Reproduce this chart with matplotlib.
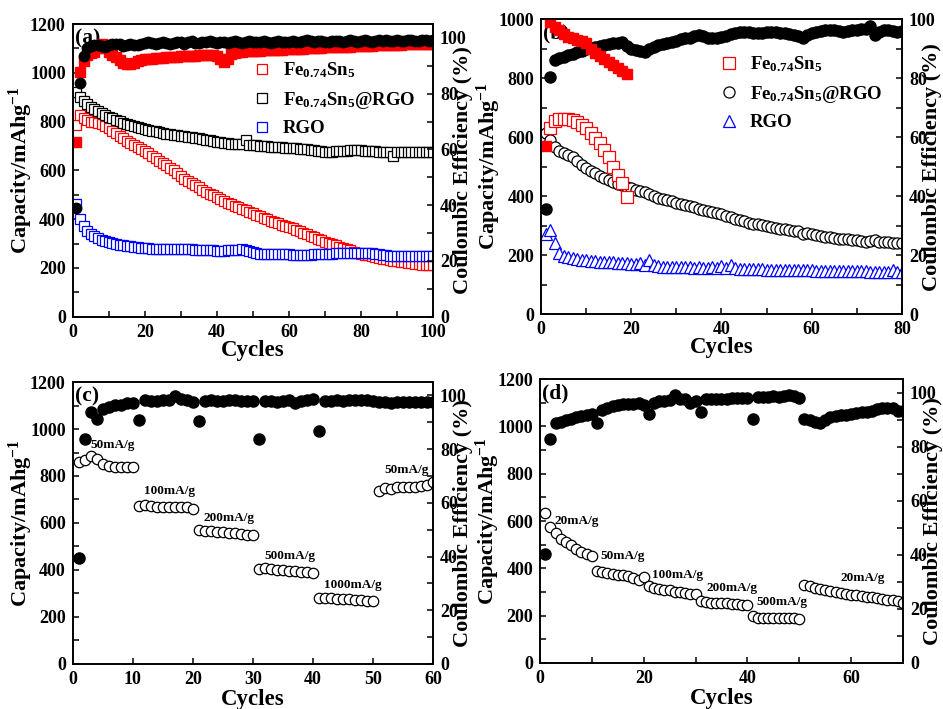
import numpy as np
import matplotlib
matplotlib.use("Agg")
import matplotlib.pyplot as plt
from matplotlib.ticker import MultipleLocator

plt.rcParams['font.family'] = ['Liberation Serif', 'DejaVu Serif']
plt.rcParams['font.weight'] = 'bold'
plt.rcParams['axes.labelweight'] = 'bold'
plt.rcParams['mathtext.fontset'] = 'custom'
plt.rcParams['mathtext.rm'] = 'Liberation Serif:bold'
plt.rcParams['mathtext.it'] = 'Liberation Serif:bold'
plt.rcParams['mathtext.bf'] = 'Liberation Serif:bold'

# ---------------- panel (a): 100 cycles ----------------
a_cycles = np.arange(1, 101)
a_cap_fe = [785, 828, 815, 805, 800, 800, 796, 790, 782, 772,
            762, 752, 742, 732, 722, 713, 704, 696, 688, 680,
            670, 660, 650, 640, 630, 620, 610, 600, 588, 576,
            566, 557, 548, 539, 530, 521, 513, 505, 497, 489,
            482, 475, 468, 461, 455, 448, 442, 436, 430, 424,
            418, 412, 406, 400, 394, 388, 383, 378, 373, 368,
            362, 356, 350, 344, 338, 332, 326, 320, 314, 308,
            302, 297, 292, 287, 282, 277, 272, 267, 263, 259,
            255, 251, 247, 244, 241, 238, 235, 232, 230, 228,
            226, 224, 222, 220, 218, 216, 214, 212, 211, 210]
a_cap_comp = [920, 902, 886, 872, 860, 850, 842, 834, 827, 820,
              813, 807, 801, 796, 791, 786, 782, 778, 774, 770,
              766, 763, 760, 757, 754, 751, 748, 746, 744, 742,
              740, 738, 736, 733, 731, 728, 726, 723, 720, 718,
              716, 714, 712, 710, 709, 708, 707, 724, 705, 703,
              702, 700, 699, 698, 697, 696, 695, 694, 693, 692,
              691, 690, 688, 687, 686, 684, 682, 680, 678, 676,
              676, 677, 678, 679, 680, 681, 682, 683, 683, 682,
              681, 680, 679, 678, 677, 676, 675, 674, 658, 674,
              675, 675, 676, 676, 675, 675, 676, 676, 675, 675]
a_cap_rgo = [462, 400, 372, 352, 340, 330, 322, 316, 311, 306,
             302, 299, 296, 293, 291, 289, 287, 285, 283, 281,
             280, 279, 278, 278, 277, 277, 276, 276, 276, 278,
             278, 277, 276, 275, 274, 273, 272, 272, 272, 271,
             271, 271, 272, 273, 274, 275, 276, 275, 270, 266,
             262, 259, 258, 258, 258, 257, 257, 257, 256, 256,
             255, 255, 255, 255, 255, 255, 256, 256, 256, 257,
             258, 259, 260, 260, 261, 261, 262, 262, 262, 262,
             262, 261, 260, 258, 256, 254, 252, 250, 248, 248,
             248, 248, 249, 249, 250, 250, 250, 250, 250, 250]
a_ce_fe = [62.6, 87.7, 91.9, 94.0, 94.5, 95.0, 96.5, 97.9, 96.5, 95.0,
           94.0, 93.2, 92.0, 91.0, 90.7, 90.8, 91.2, 91.6, 92.0, 92.3,
           92.5, 92.6, 92.7, 92.8, 92.9, 93.0, 93.1, 93.2, 93.3, 93.4,
           93.5, 93.6, 93.6, 93.7, 93.8, 93.8, 93.9, 94.0, 94.0, 93.5,
           92.5, 91.5, 92.5, 94.2, 94.5, 94.8, 95.0, 95.2, 95.3, 95.4,
           95.5, 95.5, 95.6, 95.6, 95.7, 95.7, 95.8, 95.8, 95.9, 95.9,
           96.0, 96.0, 96.1, 96.2, 96.3, 96.3, 96.4, 96.5, 96.5, 96.6,
           96.6, 96.7, 96.7, 96.8, 96.8, 96.9, 96.9, 97.0, 97.0, 97.1,
           97.1, 97.2, 97.2, 97.3, 97.3, 97.4, 97.4, 97.5, 97.5, 97.6,
           97.6, 97.7, 97.7, 97.8, 97.8, 97.9, 97.9, 98.0, 98.0, 98.0]
a_ce_comp = [39.1, 83.8, 93.7, 96.5, 97.2, 97.6, 97.4, 97.1, 96.8, 97.5,
             97.8, 98.0, 97.7, 97.2, 97.5, 97.9, 97.6, 97.4, 98.0, 98.3,
             98.6, 98.2, 97.9, 98.3, 98.4, 98.1, 97.8, 98.2, 98.5, 98.4,
             98.0, 98.6, 98.8, 98.3, 98.1, 98.5, 98.7, 99.0, 98.4, 98.2,
             98.6, 98.4, 98.1, 98.7, 98.9, 98.5, 98.3, 98.6, 98.8, 98.5,
             98.4, 98.7, 99.0, 98.6, 98.3, 98.5, 98.8, 98.6, 98.4, 98.7,
             99.0, 98.7, 98.5, 98.8, 99.1, 98.9, 98.6, 98.8, 99.0, 98.7,
             98.6, 98.9, 99.0, 98.8, 98.7, 99.0, 99.2, 98.9, 98.7, 99.0,
             99.1, 98.8, 98.7, 99.0, 99.1, 98.9, 99.2, 99.0, 98.8, 99.1,
             99.0, 98.8, 99.1, 99.3, 99.0, 98.9, 99.1, 99.2, 99.0, 99.1]

# ---------------- panel (b): 80 cycles ----------------
b_cycles = np.arange(1, 81)
b_fe_cycles = np.arange(1, 20)
b_fe_cap_cycles = np.arange(2, 20)
b_cap_fe = [630, 655, 662, 662, 662, 658, 653, 641, 630, 613,
            596, 579, 556, 534, 500, 472, 443, 398]
b_ce_fe = [57, 99, 97.5, 96.5, 95, 94, 93.5, 93, 92.5, 92,
           90, 88.5, 87.5, 86.5, 85.5, 84.5, 83.5, 82.5, 81.5]
b_cap_comp = [613, 592, 567, 553, 545, 540, 533, 520, 505, 495,
              485, 477, 468, 460, 455, 448, 442, 437, 432, 427,
              422, 418, 414, 408, 400, 395, 390, 386, 382, 378,
              374, 370, 366, 362, 358, 352, 349, 346, 342, 338,
              333, 328, 322, 318, 314, 310, 307, 304, 301, 298,
              295, 292, 290, 288, 285, 282, 280, 270, 274, 270,
              268, 265, 262, 260, 258, 256, 255, 253, 252, 250,
              248, 246, 247, 250, 245, 244, 243, 242, 241, 240]
b_cap_rgo = [272, 285, 242, 208, 198, 194, 190, 187, 184, 182,
             180, 179, 178, 177, 176, 175, 174, 173, 172, 171,
             170, 172, 168, 182, 165, 162, 161, 160, 160, 159,
             159, 158, 158, 157, 160, 157, 156, 158, 156, 164,
             156, 168, 155, 154, 154, 153, 153, 152, 152, 151,
             151, 150, 150, 150, 149, 149, 149, 148, 148, 148,
             147, 147, 147, 146, 146, 146, 146, 145, 145, 145,
             145, 145, 144, 144, 144, 144, 144, 150, 143, 143]
b_ce_comp = [35.6, 80.5, 86.2, 86.7, 87.3, 87.8, 88.3, 88.8, 89.3, 89.8,
             90.2, 90.6, 91.0, 91.3, 91.6, 91.8, 92.0, 92.2, 91.0, 90.0,
             89.6, 89.4, 89.0, 89.8, 90.6, 91.2, 91.6, 92.0, 92.4, 92.8,
             93.2, 93.5, 93.8, 94.2, 94.6, 94.2, 93.8, 93.5, 93.8, 94.0,
             94.4, 95.0, 95.5, 95.8, 95.8, 95.6, 95.4, 95.2, 95.4, 95.6,
             95.8, 95.6, 95.4, 95.2, 95.0, 94.8, 94.2, 93.6, 94.8, 95.4,
             95.8, 96.0, 96.2, 96.4, 96.2, 96.0, 95.8, 96.0, 96.2, 96.4,
             96.6, 96.8, 97.8, 94.5, 95.8, 96.2, 96.4, 96.0, 95.8, 96.0]

# ---------------- panel (c): rate test, 60 cycles ----------------
c_cycles = np.arange(1, 61)
c_cap = [858, 866, 884, 872, 850, 843, 840, 840, 840, 840,
         674, 678, 672, 670, 667, 667, 668, 669, 670, 660,
         570, 568, 566, 563, 561, 559, 556, 553, 551, 548,
         404, 409, 404, 400, 398, 396, 394, 392, 390, 388,
         282, 281, 280, 278, 277, 275, 273, 271, 269, 266,
         738, 749, 745, 752, 753, 754, 755, 756, 762, 774]
c_ce = [39.4, 83.8, 93.8, 91.3, 95.0, 95.6, 96.3, 96.6, 97.1, 97.0,
        90.7, 98.2, 98.0, 97.8, 98.2, 98.4, 99.8, 98.6, 98.2, 97.6,
        90.5, 98.1, 98.2, 98.0, 98.1, 98.4, 98.2, 97.9, 98.1, 98.0,
        83.8, 97.9, 98.0, 97.6, 98.1, 98.4, 97.1, 97.9, 98.2, 98.5,
        86.9, 98.0, 98.1, 98.2, 98.0, 98.2, 98.3, 98.4, 98.2, 98.1,
        97.4, 97.4, 97.3, 97.4, 97.5, 97.4, 97.4, 97.5, 97.4, 97.4]
c_rates = ["50mA/g", "100mA/g", "200mA/g", "500mA/g", "1000mA/g", "50mA/g"]
c_rate_x = [6.6, 16.2, 26.1, 36.2, 46.7, 55.6]
c_rate_y = [930, 737, 621, 458, 338, 827]

# ---------------- panel (d): rate test, 70 cycles ----------------
d_cycles = np.arange(1, 71)
d_cap = [633, 574, 549, 525, 511, 497, 482, 471, 461, 453,
         390, 384, 380, 376, 373, 370, 366, 361, 352, 362,
         324, 316, 312, 309, 307, 302, 300, 295, 291, 291,
         260, 256, 255, 254, 253, 252, 250, 249, 247, 244,
         197, 192, 191, 190, 190, 189, 189, 188, 188, 187,
         328, 324, 318, 312, 307, 303, 299, 296, 292, 289,
         286, 283, 280, 277, 274, 271, 268, 265, 262, 255]
d_ce = [40.2, 83.0, 88.6, 89.2, 89.8, 90.4, 90.8, 91.2, 91.6, 92.2,
        88.8, 93.4, 94.4, 94.9, 95.4, 95.6, 95.7, 95.8, 96.0, 95.3,
        92.2, 96.2, 96.9, 96.9, 97.2, 99.0, 97.8, 97.6, 96.0, 97.0,
        92.8, 97.6, 97.7, 97.8, 97.8, 97.8, 97.9, 97.9, 98.0, 98.0,
        90.1, 98.4, 98.4, 98.5, 98.6, 98.5, 98.7, 99.2, 98.8, 98.0,
        90.4, 89.8, 89.2, 88.8, 89.8, 91.0, 91.5, 91.7, 91.8, 92.0,
        92.4, 92.7, 92.9, 93.2, 94.0, 94.4, 94.4, 94.2, 93.0, 93.0]
d_rates = ["20mA/g", "50mA/g", "100mA/g", "200mA/g", "500mA/g", "20mA/g"]
d_rate_x = [7.0, 15.9, 26.5, 37.0, 46.7, 62.3]
d_rate_y = [602, 453, 370, 316, 256, 359]

fe_label = r"Fe$_{0.74}$Sn$_5$"
comp_label = r"Fe$_{0.74}$Sn$_5$@RGO"


def make_panel(rect, xmax, xmajor, xminor, ymax, ce_max, tag, xlab_y):
    ax = fig.add_axes(rect)
    ax2 = ax.twinx()
    ax.set_xlim(0, xmax)
    ax.set_ylim(0, ymax)
    ax2.set_ylim(0, ce_max)
    ax.xaxis.set_major_locator(MultipleLocator(xmajor))
    if xminor:
        ax.xaxis.set_minor_locator(MultipleLocator(xminor))
    ax.yaxis.set_major_locator(MultipleLocator(200))
    ax.yaxis.set_minor_locator(MultipleLocator(100))
    ax2.yaxis.set_major_locator(MultipleLocator(20))
    ax2.yaxis.set_minor_locator(MultipleLocator(10))
    for a in (ax, ax2):
        a.tick_params(which='both', direction='in', length=4, width=1.1, labelsize=13, pad=5)
        for s in a.spines.values():
            s.set_linewidth(1.2)
    ax.set_xlabel("Cycles", fontsize=16.5)
    ax.set_ylabel("Capacity/mAhg$^{-1}$", fontsize=16)
    ax2.set_ylabel("Coulombic Efficiency (%)", fontsize=16)
    ax.xaxis.set_label_coords(0.5, xlab_y)
    ax.yaxis.set_label_coords(-0.105, 0.5)
    ax2.yaxis.set_label_coords(1.055, 0.5)
    ax.text(0.005, 0.985, tag, transform=ax.transAxes, fontsize=15.5,
            ha='left', va='top', zorder=10)
    return ax, ax2


fig = plt.figure(figsize=(9.43, 7.09), dpi=100)

# (a)
ax, ax2 = make_panel([0.0771, 0.5533, 0.3821, 0.4128], 100, 20, 10, 1200, 105, "(a)", -0.078)
l1, = ax.plot(a_cycles, a_cap_fe, 's', ms=7, mfc='white', mec='red', mew=0.9, label=fe_label)
l2, = ax.plot(a_cycles, a_cap_comp, 's', ms=7, mfc='white', mec='black', mew=0.9, label=comp_label)
l3, = ax.plot(a_cycles, a_cap_rgo, 's', ms=7, mfc='white', mec='blue', mew=0.9, label="RGO")
ax2.plot(a_cycles, a_ce_fe, 's', ms=7, color='red')
ax2.plot(a_cycles, a_ce_comp, 'o', ms=7.5, color='black')
ax2.legend(handles=[l1, l2, l3], loc='upper left', bbox_to_anchor=(0.5, 0.875),
           frameon=False, fontsize=13.5, handlelength=1.0, handletextpad=0.6,
           labelspacing=0.5, borderpad=0, borderaxespad=0)

# (b)
ax, ax2 = make_panel([0.5737, 0.5571, 0.3828, 0.4157], 80, 20, 10, 1000, 100, "(b)", -0.078)
ax2.plot(b_cycles, b_ce_comp, 'o', ms=8, color='black')
ax2.plot(b_fe_cycles, b_ce_fe, 's', ms=7.5, color='red')
m2, = ax.plot(b_cycles, b_cap_comp, 'o', ms=8, mfc='white', mec='black', mew=0.9, label=comp_label)
m3, = ax.plot(b_cycles, b_cap_rgo, '^', ms=8.5, mfc='white', mec='blue', mew=0.9, label="RGO")
m1, = ax.plot(b_fe_cap_cycles, b_cap_fe, 's', ms=8, mfc='white', mec='red', mew=0.9, label=fe_label)
ax2.legend(handles=[m1, m2, m3], loc='upper left', bbox_to_anchor=(0.495, 0.88),
           frameon=False, fontsize=13.5, handlelength=1.0, handletextpad=0.6,
           labelspacing=0.5, borderpad=0, borderaxespad=0)

# (c)
ax, ax2 = make_panel([0.0771, 0.0635, 0.3821, 0.3977], 60, 10, None, 1200, 105, "(c)", -0.088)
ax.plot(c_cycles, c_cap, 'o', ms=7.5, mfc='white', mec='black', mew=0.9)
ax2.plot(c_cycles, c_ce, 'o', ms=8, color='black')
for t, x, y in zip(c_rates, c_rate_x, c_rate_y):
    ax.text(x, y, t, fontsize=9.5, ha='center', va='center')

# (d)
ax, ax2 = make_panel([0.5726, 0.0649, 0.3850, 0.4005], 70, 20, 10, 1200, 105, "(d)", -0.088)
ax.plot(d_cycles, d_cap, 'o', ms=7.5, mfc='white', mec='black', mew=0.9)
ax2.plot(d_cycles, d_ce, 'o', ms=8, color='black')
for t, x, y in zip(d_rates, d_rate_x, d_rate_y):
    ax.text(x, y, t, fontsize=9.5, ha='center', va='center')

fig.savefig("out.png", dpi=100)
